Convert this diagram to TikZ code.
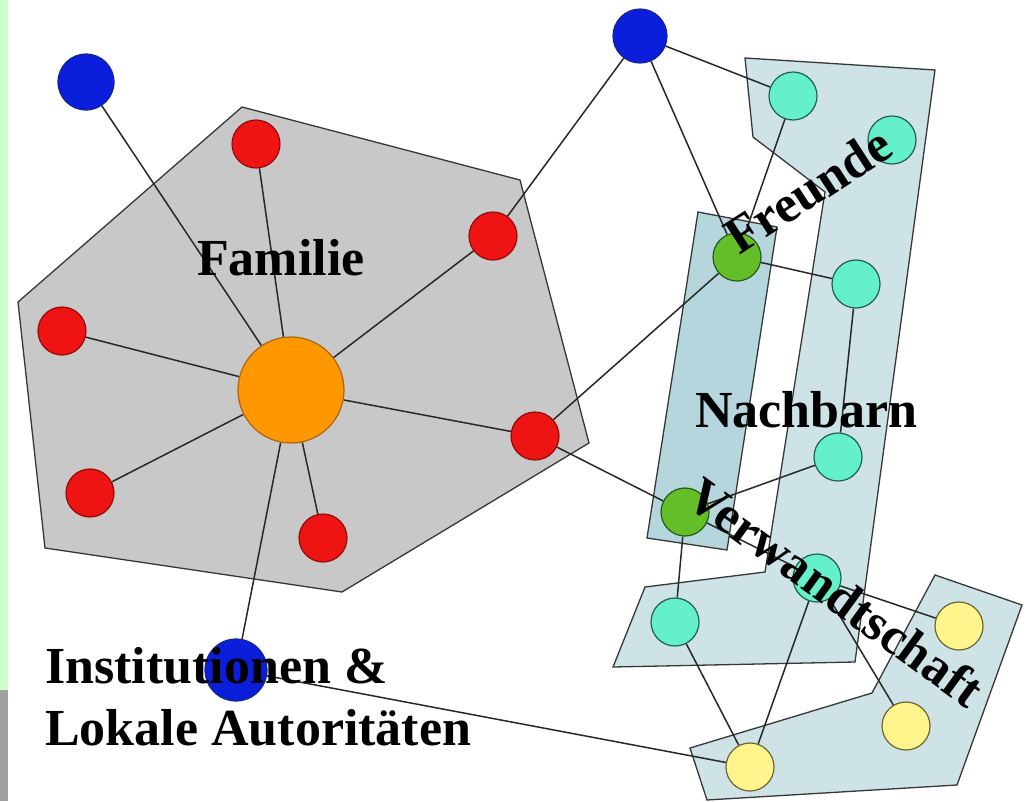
\documentclass[tikz,border=0pt]{standalone}
\usepackage{fontspec}
\setmainfont{Liberation Serif}
\definecolor{hexgray}{RGB}{200,200,200}
\definecolor{tealL}{RGB}{206,227,230}
\definecolor{tealD}{RGB}{180,214,220}
\definecolor{polyline}{RGB}{55,55,55}
\definecolor{edgec}{RGB}{40,40,40}
\definecolor{nred}{RGB}{238,20,20}
\definecolor{nredD}{RGB}{150,10,10}
\definecolor{nblue}{RGB}{10,30,220}
\definecolor{nblueD}{RGB}{20,40,140}
\definecolor{norange}{RGB}{255,152,0}
\definecolor{norangeD}{RGB}{170,100,20}
\definecolor{nturq}{RGB}{100,240,200}
\definecolor{nturqD}{RGB}{35,95,75}
\definecolor{ngreen}{RGB}{100,190,40}
\definecolor{ngreenD}{RGB}{40,90,30}
\definecolor{nyellow}{RGB}{255,245,140}
\definecolor{nyellowD}{RGB}{110,100,50}
\definecolor{stripgreen}{RGB}{204,255,204}
\definecolor{stripgray}{RGB}{160,160,160}
\pgfdeclarelayer{groups}
\pgfdeclarelayer{edges}
\pgfsetlayers{groups,edges,main}
\begin{document}
\begin{tikzpicture}[x=1pt,y=-1pt,
  grp/.style={draw=polyline, line width=1.3pt, line join=miter},
  edge/.style={draw=edgec, line width=1.5pt},
  nd/.style={circle, line width=1.2pt, inner sep=0pt, minimum size=48pt},
  rednode/.style={nd, fill=nred, draw=nredD},
  bluenode/.style={nd, fill=nblue, draw=nblueD, minimum size=56pt},
  orangenode/.style={nd, fill=norange, draw=norangeD, minimum size=106pt},
  turqnode/.style={nd, fill=nturq, draw=nturqD},
  greennode/.style={nd, fill=ngreen, draw=ngreenD},
  yellownode/.style={nd, fill=nyellow, draw=nyellowD},
  lbl/.style={font=\bfseries\fontsize{52}{62}\selectfont, inner sep=0pt}]
\useasboundingbox (0,0) rectangle (1031,801);
\begin{pgfonlayer}{groups}
\fill[white] (0,0) rectangle (1031,801);
\fill[stripgreen] (0,0) rectangle (8,690);
\fill[stripgray] (0,690) rectangle (8,801);
\path[grp, fill=hexgray] (18,302) -- (242,107) -- (520,180) -- (589,443) -- (342,592) -- (45,548) -- cycle;
\path[grp, fill=tealL] (745,58) -- (935,70) -- (855,662) -- (613,667) -- (645,587) -- (765,572) -- (825,192) -- (753,137) -- cycle;
\path[grp, fill=tealD] (698,212) -- (777,227) -- (727,550) -- (647,538) -- cycle;
\path[grp, fill=tealL] (935,575) -- (1022,605) -- (957,785) -- (707,800) -- (690,748) -- (872,693) -- cycle;
\end{pgfonlayer}
% nodes
\node[bluenode] (B1) at (86,82) {};
\node[bluenode, minimum size=54pt] (B2) at (640,36) {};
\node[bluenode, minimum size=62pt] (B3) at (236,670) {};
\node[rednode] (R1) at (256,144) {};
\node[rednode] (R2) at (493,236) {};
\node[rednode] (R3) at (62,331) {};
\node[rednode] (R4) at (535,436) {};
\node[rednode] (R5) at (90,493) {};
\node[rednode] (R6) at (323,538) {};
\node[orangenode] (O) at (291,390) {};
\node[turqnode] (T1) at (793,96) {};
\node[turqnode] (T2) at (892,140) {};
\node[turqnode] (T3) at (856,284) {};
\node[turqnode] (T4) at (838,457) {};
\node[turqnode] (T5) at (817,578) {};
\node[turqnode] (T6) at (675,622) {};
\node[greennode] (G1) at (737,257) {};
\node[greennode] (G2) at (685,512) {};
\node[yellownode] (Y1) at (959,626) {};
\node[yellownode] (Y2) at (906,726) {};
\node[yellownode] (Y3) at (750,767) {};
% edges
\begin{pgfonlayer}{edges}
\foreach \a/\b in {B1/O,R1/O,R2/O,R3/O,R4/O,R5/O,R6/O,B3/O,R2/B2,B2/T1,B2/G1,T1/G1,G1/T3,G1/R4,R4/G2,G2/T4,G2/T6,G2/T5,T5/Y1,T3/T4,T5/Y2,T5/Y3,T6/Y3,B3/Y3}
  \draw[edge] (\a) -- (\b);
\end{pgfonlayer}
% labels
\node[lbl, anchor=base west] (famlbl) at (197,275) {Familie};
\node[lbl, anchor=base west] (nachlbl) at (695,427) {Nachbarn};
\node[lbl, rotate=33] (freulbl) at (808,190) {Freunde};
\node[lbl, rotate=-36] (verwlbl) at (836,592) {Verwandtschaft};
\node[lbl, anchor=base west] (instlbl) at (45,683) {Institutionen \&};
\node[lbl, anchor=base west] (loklbl) at (45,745) {Lokale Autoritäten};
\end{tikzpicture}
\end{document}
